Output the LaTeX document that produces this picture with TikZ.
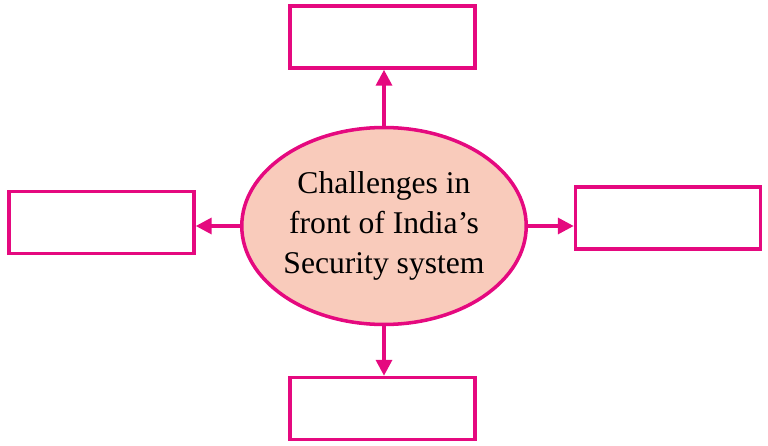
\documentclass[tikz,border=0pt]{standalone}
\usepackage{fontspec}
\setmainfont{Liberation Serif}
\usetikzlibrary{arrows.meta, shapes.geometric}
\definecolor{magentaline}{HTML}{E5097F}
\definecolor{pinkfill}{HTML}{F9CBBB}
\begin{document}
\begin{tikzpicture}[x=0.02cm, y=-0.02cm,
		boxstyle/.style={draw=magentaline, line width=2pt, minimum width=3.7cm, minimum height=1.24cm, inner sep=0pt},
		arrowstyle/.style={-{Triangle[length=9pt, width=9pt]}, draw=magentaline, fill=magentaline, line width=2pt}
	]
		\useasboundingbox (0,0) rectangle (768,446);
		\node[ellipse, draw=magentaline, fill=pinkfill, line width=2pt, minimum width=5.36cm, minimum height=3.94cm, inner sep=0pt, align=center, font=\fontsize{18}{22.7}\selectfont] (centre) at (384,226) {Challenges in\\front of India’s\\Security system};
		\node[boxstyle] (top) at (382.5,37) {};
		\node[boxstyle] (left) at (101.5,222.5) {};
		\node[boxstyle] (right) at (668,218) {};
		\node[boxstyle] (bottom) at (382.5,408.5) {};
		
		\draw[arrowstyle] (centre.north) -- (centre.north |- top.south);
		\draw[arrowstyle] (centre.west) -- (centre.west -| left.east);
		\draw[arrowstyle] (centre.east) -- (centre.east -| right.west);
		\draw[arrowstyle] (centre.south) -- (centre.south |- bottom.north);
	\end{tikzpicture}
\end{document}
